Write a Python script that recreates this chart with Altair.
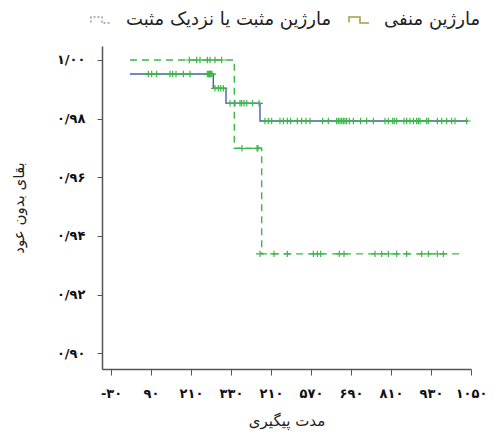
import altair as alt
import pandas as pd

# ---------------- data ----------------
legend_labels = ["مارژین مثبت یا نزدیک مثبت", "مارژین منفی"]
legend_colors = ["#9b9b9b", "#a89b45"]
legend_dash = [[2, 2], [1, 0]]

# step curves (time, survival)
neg_times = [27, 277, 315, 417, 1041]
neg_surv = [0.9952, 0.99035, 0.98523, 0.9792, 0.9792]
pos_times = [27, 340, 422, 1026]
pos_surv = [1.0, 0.9699, 0.9339, 0.9339]

# censor marks per step level
neg_cens_levels = [0.9952, 0.99035, 0.98523, 0.9792]
neg_cens_times = [
    [82, 92, 107, 147, 155, 165, 187, 207, 259, 262, 265, 266, 269, 270, 273],
    [282, 292, 299, 307],
    [327, 342, 357, 362, 369, 377, 395, 414],
    [432, 442, 452, 477, 487, 499, 509, 529, 542, 555, 567, 605, 622, 647, 652,
     657, 662, 667, 672, 677, 685, 697, 719, 737, 757, 792, 802, 815, 820, 827,
     849, 857, 867, 877, 887, 892, 897, 917, 922, 949, 962, 977, 992, 1002, 1037],
]
pos_cens_levels = [1.0, 0.9699, 0.9339]
pos_cens_times = [
    [205, 227, 237, 259, 267, 282, 302],
    [363, 408, 411],
    [417, 459, 499, 577, 589, 599, 655, 669, 762, 782, 802, 827, 857, 902, 922, 949, 967],
]

y_ticks = [0.90, 0.92, 0.94, 0.96, 0.98, 1.00]
y_tick_labels = ["۰/۹۰", "۰/۹۲", "۰/۹۴", "۰/۹۶", "۰/۹۸", "۱/۰۰"]
x_ticks = list(range(-30, 1051, 60))
x_tick_labels = ["-۳۰", "", "۹۰", "", "۲۱۰", "", "۳۳۰", "", "۲۱۰", "", "۵۷۰", "",
                 "۶۹۰", "", "۸۱۰", "", "۹۳۰", "", "۱۰۵۰"]

x_title = "مدت پیگیری"
y_title = "بقای بدون عود"

FONT = "DejaVu Sans"
BLUE = "#4a5db0"
GREEN = "#3cb54a"

# ---------------- tables ----------------
neg_df = pd.DataFrame({"t": neg_times, "s": neg_surv})
pos_df = pd.DataFrame({"t": pos_times, "s": pos_surv})
cens_rows = []
for lvl, ts in zip(neg_cens_levels, neg_cens_times):
    cens_rows += [{"t": t, "s": lvl} for t in ts]
for lvl, ts in zip(pos_cens_levels, pos_cens_times):
    cens_rows += [{"t": t, "s": lvl} for t in ts]
cens_df = pd.DataFrame(cens_rows)
legend_df = pd.DataFrame({
    "t": [-3000, -2900, -3000, -2900],
    "s": [0.95, 0.95, 0.94, 0.94],
    "g": [legend_labels[0], legend_labels[0], legend_labels[1], legend_labels[1]],
})

x_scale = alt.Scale(domain=[-57, 1050], nice=False, zero=False)
y_scale = alt.Scale(domain=[0.89465, 1.00477], nice=False, zero=False)

y_expr = "{" + ",".join(f"'{v:.2f}':'{l}'" for v, l in zip(y_ticks, y_tick_labels)) + "}[format(datum.value,'.2f')]"
x_expr = "[" + ",".join(f"'{l}'" for l in x_tick_labels) + "][round((datum.value+30)/60)]"

x_axis = alt.Axis(values=x_ticks, labelExpr=x_expr, title=x_title, grid=False,
                  tickSize=6, labelPadding=12, titlePadding=13,
                  labelFont=FONT, labelFontSize=13, labelFontWeight="bold",
                  titleFont=FONT, titleFontSize=15, titleFontWeight="normal",
                  domainColor="#555555", tickColor="#555555", domainWidth=1.5,
                  labelColor="#111111", titleColor="#222222", labelFlush=False)
y_axis = alt.Axis(values=y_ticks, labelExpr=y_expr, title=y_title, grid=False,
                  tickSize=5, labelPadding=12, titlePadding=30,
                  labelFont=FONT, labelFontSize=13, labelFontWeight="bold",
                  titleFont=FONT, titleFontSize=15, titleFontWeight="normal",
                  domainColor="#555555", tickColor="#555555", domainWidth=1.5,
                  labelColor="#111111", titleColor="#222222", labelFlush=False)

neg_line = alt.Chart(neg_df).mark_line(interpolate="step-after", color=BLUE, strokeWidth=1.4).encode(
    x=alt.X("t:Q", scale=x_scale, axis=x_axis),
    y=alt.Y("s:Q", scale=y_scale, axis=y_axis),
)
pos_line = alt.Chart(pos_df).mark_line(interpolate="step-after", color=GREEN, strokeWidth=1.4,
                                       strokeDash=[7, 5]).encode(
    x=alt.X("t:Q", scale=x_scale),
    y=alt.Y("s:Q", scale=y_scale),
)
cens = alt.Chart(cens_df).mark_point(shape="M-1,0L1,0M0,-0.8L0,0.8", size=64, filled=False,
                                     color=GREEN, strokeWidth=1.2, opacity=1).encode(
    x=alt.X("t:Q", scale=x_scale),
    y=alt.Y("s:Q", scale=y_scale),
)
legend_layer = alt.Chart(legend_df).mark_line(clip=True, strokeWidth=1.5).encode(
    x=alt.X("t:Q", scale=x_scale),
    y=alt.Y("s:Q", scale=y_scale),
    color=alt.Color("g:N", scale=alt.Scale(domain=legend_labels, range=legend_colors),
                    legend=alt.Legend(orient="none", legendX=-12, legendY=-37, direction="horizontal",
                                      title=None, symbolType="M-1,0.25L-1,-0.3L0.1,-0.3L0.1,0.3L1,0.3",
                                      symbolSize=400, symbolStrokeWidth=1.5,
                                      labelFont=FONT, labelFontSize=18, labelColor="#222222",
                                      labelLimit=400, labelOffset=14, columnPadding=14)),
    strokeDash=alt.StrokeDash("g:N", scale=alt.Scale(domain=legend_labels, range=legend_dash), legend=None),
)

chart = alt.layer(neg_line, pos_line, cens, legend_layer).properties(
    width=369, height=323,
    autosize=alt.AutoSizeParams(type="none"),
    padding={"left": 94, "top": 38, "right": 18, "bottom": 62},
    background="white",
).configure_view(stroke=None)

chart.save("out.html", embed_options={"renderer": "svg", "actions": False})
